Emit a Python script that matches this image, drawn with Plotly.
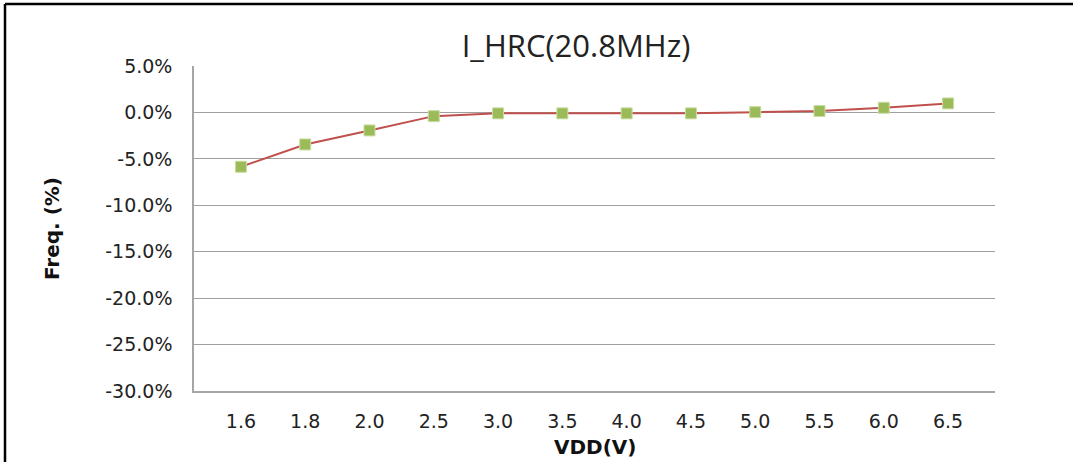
import plotly.graph_objects as go

categories = ["1.6", "1.8", "2.0", "2.5", "3.0", "3.5", "4.0", "4.5", "5.0", "5.5", "6.0", "6.5"]
freq_pct = [-5.85, -3.45, -1.94, -0.4, -0.1, -0.1, -0.1, -0.1, 0.03, 0.15, 0.5, 0.97]
y_ticks = [5, 0, -5, -10, -15, -20, -25, -30]

FONT = "DejaVu Sans"

fig = go.Figure()
fig.add_trace(go.Scatter(
    x=categories, y=freq_pct, mode="lines+markers",
    line=dict(color="#C0504D", width=2),
    marker=dict(symbol="square", size=11, color="#9BBB59",
                line=dict(color="#C9DDA4", width=1)),
    showlegend=False,
))

L, R, T, B = 194, 78, 66, 71
W, H = 1073, 462
pw = W - L - R
ph = H - T - B

fig.update_layout(
    width=W, height=H,
    margin=dict(l=L, r=R, t=T, b=B, autoexpand=False),
    paper_bgcolor="white", plot_bgcolor="white",
    font=dict(family=FONT, size=19, color="#222222"),
    title=dict(text="I_HRC(20.8MHz)", x=576 / W, xanchor="center",
               y=1 - 46 / H, yanchor="middle",
               font=dict(family="Open Sans", size=31, color="#222222")),
    xaxis=dict(
        type="category", showgrid=False, zeroline=False,
        showline=True, linecolor="#A6A6A6", linewidth=1.5,
        ticks="", ticklabelstandoff=12, automargin=False,
    ),
    yaxis=dict(
        range=[-30, 5], tickvals=y_ticks,
        ticktext=[f"{v:.1f}%" for v in y_ticks],
        showgrid=True, gridcolor="#A0A0A0", gridwidth=1.2,
        zeroline=False, showline=True, linecolor="#A6A6A6", linewidth=1.5,
        ticks="", ticklabelstandoff=16, automargin=False,
        title=dict(text="<b>Freq. (%)</b>", standoff=40,
                   font=dict(family=FONT, size=20, color="#111111")),
    ),
)

# x-axis title placed as an annotation (axis titles are clamped into the margin)
fig.add_annotation(text="<b>VDD(V)</b>", xref="paper", yref="paper",
                   x=0.5, y=(H - B - 447) / ph, xanchor="center", yanchor="middle",
                   showarrow=False, font=dict(family=FONT, size=20, color="#111111"))

# outer chart frame (cropped at right and bottom in the reference)
fig.add_shape(type="line", xref="paper", yref="paper",
              x0=(5 - L) / pw, x1=(5 - L) / pw,
              y0=(H - B - H - 5) / ph, y1=(H - B - 4) / ph,
              line=dict(color="black", width=2.5))
fig.add_shape(type="line", xref="paper", yref="paper",
              x0=(5 - L) / pw, x1=(W - L) / pw,
              y0=(H - B - 4) / ph, y1=(H - B - 4) / ph,
              line=dict(color="black", width=2.5))

fig.write_html("out.html", config={"displayModeBar": False},
               post_script="document.body.style.margin='0';document.body.style.overflow='hidden';")
